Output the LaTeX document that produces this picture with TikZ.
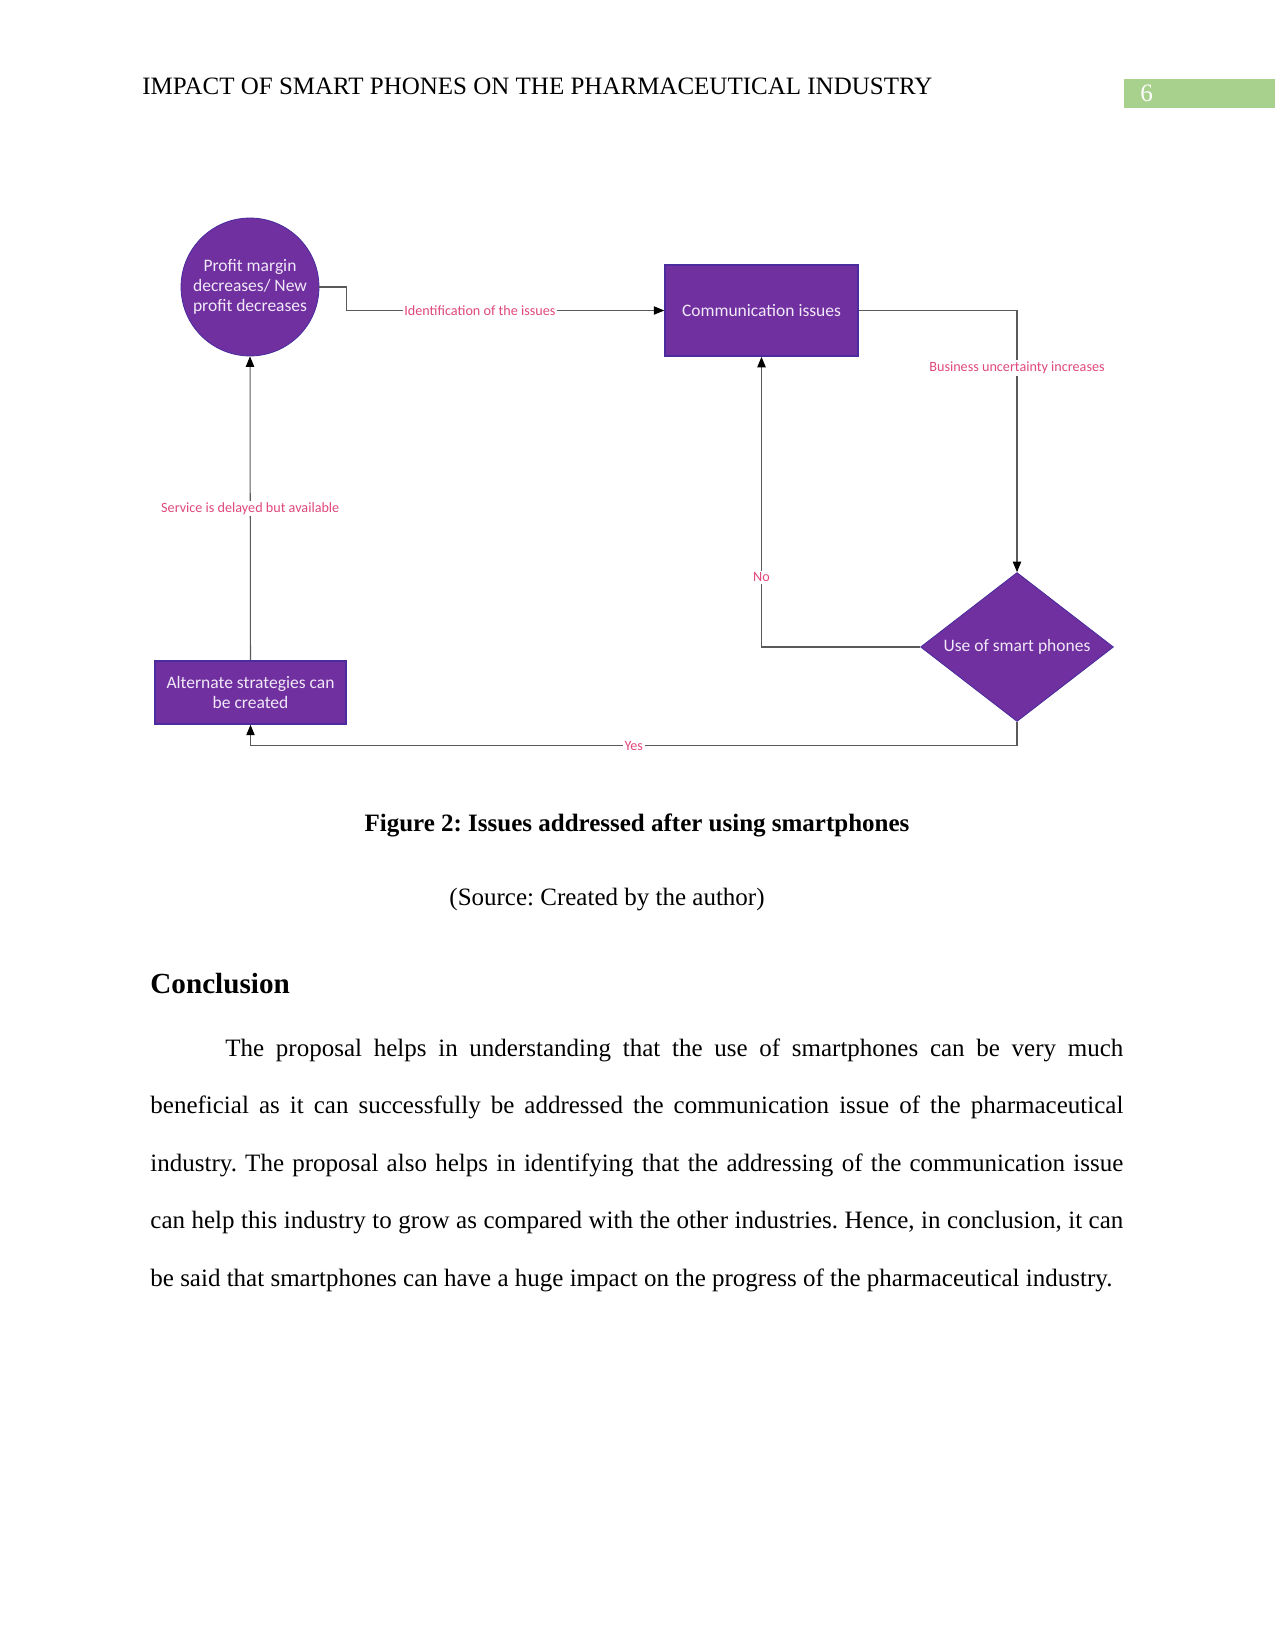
\documentclass[tikz,border=0pt]{standalone}
\usepackage{fontspec}
\setmainfont{Liberation Serif}
\newfontfamily\cali{Carlito}
\usetikzlibrary{shapes.geometric, arrows.meta}
\frenchspacing
\definecolor{purplefill}{HTML}{7030A0}
\definecolor{purpleline}{HTML}{4A2C9E}
\definecolor{nodetext}{HTML}{F1E8F8}
\definecolor{lblpink}{HTML}{E0487D}
\definecolor{linegray}{HTML}{5A5A5A}
\definecolor{pagegreen}{HTML}{A9D18E}
\tikzstyle{circ}=[circle, draw=purpleline, fill=purplefill, text=nodetext, minimum size=66.2pt, inner sep=0pt, align=center, font=\cali\fontsize{8.4}{9.6}\selectfont]
\tikzstyle{procbox}=[rectangle, draw=purpleline, thick, fill=purplefill, text=nodetext, inner sep=0pt, align=center, font=\cali\fontsize{8.4}{9.2}\selectfont]
\tikzstyle{decision}=[diamond, aspect=1.3, draw=purpleline, fill=purplefill, text=nodetext, inner sep=0pt, minimum width=92.6pt, minimum height=71.5pt, font=\cali\fontsize{8.4}{9.6}\selectfont]
\tikzstyle{lbl}=[fill=white, inner sep=0.8pt, text=lblpink, font=\cali\fontsize{6.8}{8}\selectfont]
\tikzstyle{arr}=[draw=linegray, line width=0.5pt, -{Triangle[color=black, length=5pt, width=4pt]}]

\begin{document}
\begin{tikzpicture}[x=0.48pt, y=-0.48pt]
    \useasboundingbox (0,0) rectangle (1275,1651);
    \coordinate (cprofit) at (250,287);
    \coordinate (ccomm) at (761.5,310.5);
    \coordinate (cuse) at (1017,647);
    \coordinate (calt) at (250.5,692.5);
    \node[anchor=base west, inner sep=0pt, font=\fontsize{12}{14}\selectfont] (title) at (142,95) {IMPACT OF SMART PHONES ON THE PHARMACEUTICAL INDUSTRY};
    \fill[pagegreen] (1124,79) rectangle (1275,108);
    \node[anchor=base west, text=white, font=\fontsize{12}{14}\selectfont, inner sep=0pt] (pagenum) at (1140,102) {6};
    \node[circ] (profit) at (cprofit) {Profit margin\\decreases/ New\\profit decreases};
    \node[procbox, minimum width=92.6pt, minimum height=43.7pt] (comm) at (ccomm) {Communication issues};
    \node[decision] (use) at (cuse) {Use of smart phones};
    \node[procbox, minimum width=91.7pt, minimum height=30.2pt] (alt) at (calt) {Alternate strategies can\\be created};
    \draw[arr] (profit.east) -- ++(27,0) |- node[lbl, pos=0.71] {Identification of the issues} (comm.west);
    \draw[arr] (comm.east) -| node[lbl, pos=0.61] {Business uncertainty increases} (use.north);
    \draw[arr] (use.west) -| node[lbl, pos=0.62] {No} (comm.south);
    \draw[arr] (use.south) -- ++(0,24) -| node[lbl, pos=0.25] {Yes} (alt.south);
    \draw[arr] (alt.north) -- node[lbl, pos=0.5] {Service is delayed but available} (profit.south);
    \node[anchor=base, font=\bfseries\fontsize{12}{14}\selectfont] (caption) at (637,831) {Figure 2: Issues addressed after using smartphones};
    \node[anchor=base, font=\fontsize{12}{14}\selectfont] (source) at (607,905) {(Source: Created by the author)};
    \node[anchor=base west, inner sep=0pt, font=\bfseries\fontsize{14}{16}\selectfont] (heading) at (150,993) {Conclusion};
    \node[anchor=base west, inner sep=0pt, text width=467pt, align=justify, font=\fontsize{12}{27.6}\selectfont] (para) at (150,1056) {\hspace*{36pt}The proposal helps in understanding that the use of smartphones can be very much\linebreak beneficial as it can successfully be addressed the communication issue of the pharmaceutical\linebreak industry. The proposal also helps in identifying that the addressing of the communication issue\linebreak can help this industry to grow as compared with the other industries. Hence, in conclusion, it can\linebreak be said that smartphones can have a huge impact on the progress of the pharmaceutical industry.};
\end{tikzpicture}
\end{document}
